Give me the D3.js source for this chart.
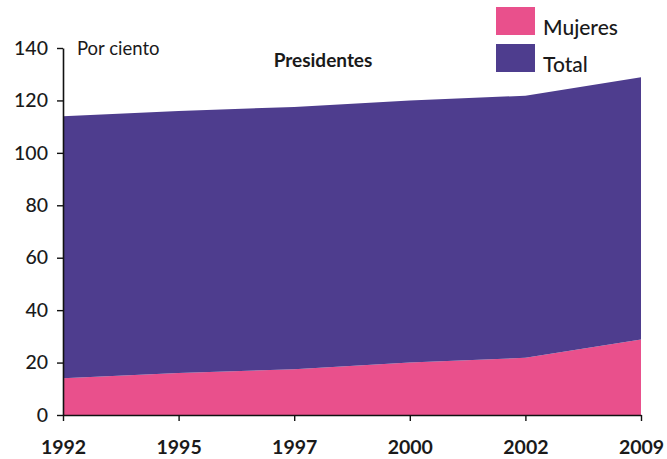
<!DOCTYPE html>
<html><head><meta charset="utf-8">
<script src="https://cdn.jsdelivr.net/npm/d3@7"></script>
<style>
body{margin:0;background:#fff;}
text{font-family:"Lato","Open Sans",sans-serif;fill:#1a1a1a;}
</style></head>
<body><svg id="c" width="667" height="459"></svg>
<script>
const years = ["1992","1995","1997","2000","2002","2009"];
const mujeres = [14, 16, 17.5, 20, 21.8, 28.8];
const total = [100, 100, 100, 100, 100, 100];
const yTicks = [0,20,40,60,80,100,120,140];
const seriesNames = ["Mujeres","Total"];
const colors = ["#e9508c","#4e3d8e"];

const svg = d3.select("#c");
const mLeft=63, mRight=641, mTop=48, mBottom=415;
const x = d3.scalePoint().domain(years).range([mLeft,mRight]);
const y = d3.scaleLinear().domain([0,140]).range([mBottom,mTop]);

const rows = years.map((yr,i)=>({year:yr, Mujeres:mujeres[i], Total:total[i]}));
const stack = d3.stack().keys(seriesNames)(rows);
const area = d3.area().x(d=>x(d.data.year)).y0(d=>y(d[0])).y1(d=>y(d[1]));
svg.selectAll("path.a").data(stack).enter().append("path")
  .attr("class","a").attr("d",area).attr("fill",(d,i)=>colors[i]);

// y axis
const ya = svg.append("g").attr("transform",`translate(${mLeft},0)`)
  .call(d3.axisLeft(y).tickValues(yTicks).tickSize(6).tickPadding(9).tickSizeOuter(0));
ya.select(".domain").attr("stroke","#111").attr("stroke-width",1.6);
ya.selectAll(".tick line").attr("stroke","#111").attr("stroke-width",1.4);
ya.selectAll("text").attr("font-size",19.5).attr("font-weight",500).attr("font-family","Lato, sans-serif").attr("fill","#1a1a1a");

// x axis
const xa = svg.append("g").attr("transform",`translate(0,${mBottom})`)
  .call(d3.axisBottom(x).tickSize(6).tickPadding(19).tickSizeOuter(0));
xa.select(".domain").attr("stroke","#111").attr("stroke-width",1.6);
xa.selectAll(".tick line").attr("stroke","#111").attr("stroke-width",1.4);
xa.selectAll("text").attr("font-size",19.5).attr("font-weight",700).attr("font-family","Lato, sans-serif").attr("fill","#1a1a1a");

svg.append("text").attr("x",77).attr("y",55).attr("font-size",18.5).text("Por ciento");
svg.append("text").attr("x",323).attr("y",67).attr("font-size",19).attr("font-weight",700)
  .attr("text-anchor","middle").text("Presidentes");

// legend
const lg = svg.append("g");
seriesNames.forEach((n,i)=>{
  lg.append("rect").attr("x",496).attr("y",7+i*37).attr("width",39).attr("height",28).attr("fill",colors[i]);
  lg.append("text").attr("x",543).attr("y",35+i*37).attr("font-size",21).attr("font-weight",500).text(n);
});
</script></body></html>
